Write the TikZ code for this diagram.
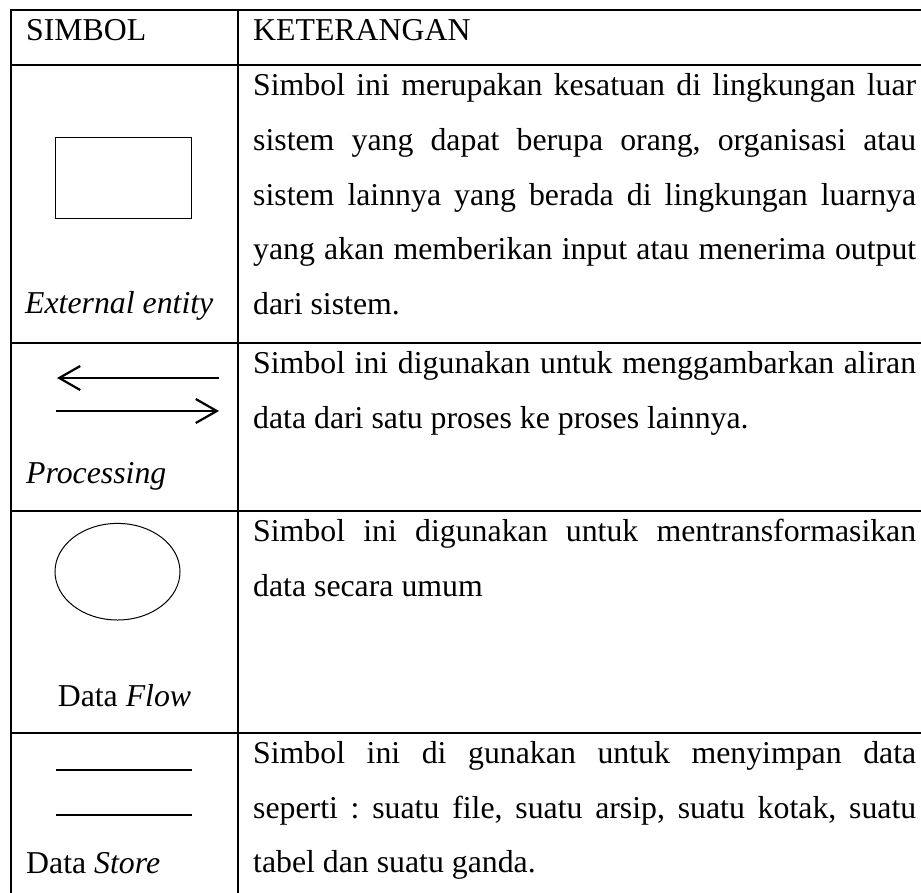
\documentclass[tikz,border=0pt]{standalone}
\usepackage{fontspec}
\setmainfont{Liberation Serif}
\usetikzlibrary{arrows.meta}
\frenchspacing
% a justified line of the description column
\newcommand\jline[1]{\makebox[663pt][s]{#1}}
\begin{document}
\begin{tikzpicture}[x=1pt,y=-1pt,
  rule/.style={line width=2.4pt, line cap=rect},
  outline/.style={line width=1pt},
  flow/.style={line width=2.2pt, -{Straight Barb[length=21pt,width=24pt,line width=2.2pt]}},
  storeline/.style={line width=2.2pt},
  txt/.style={inner sep=0pt, anchor=base west, font=\fontsize{31.8}{38}\selectfont},
  ctxt/.style={inner sep=0pt, anchor=base, font=\fontsize{31.8}{38}\selectfont}]
\useasboundingbox (0,0) rectangle (921,892);

% table rules
\draw[rule] (11,10) -- (935,10);
\draw[rule] (11,65) -- (935,65);
\draw[rule] (11,343) -- (935,343);
\draw[rule] (11,511) -- (935,511);
\draw[rule] (11,733) -- (935,733);
\draw[rule] (11,10) -- (11,905);
\draw[rule] (238,10) -- (238,905);

% header
\node[txt] (hsym) at (26,40) {SIMBOL};
\node[txt] (hket) at (253,40) {KETERANGAN};

% external entity
\draw[outline] (55,137) rectangle (191,218);
\node[txt] (lee) at (25,313) {\itshape External entity};
\node[txt] (t11) at (253,95) {\jline{Simbol ini merupakan kesatuan di lingkungan luar}};
\node[txt] (t12) at (253,150) {\jline{sistem yang dapat berupa orang, organisasi atau}};
\node[txt] (t13) at (253,205) {\jline{sistem lainnya yang berada di lingkungan luarnya}};
\node[txt] (t14) at (253,259) {\jline{yang akan memberikan input atau menerima output}};
\node[txt] (t15) at (253,314) {dari sistem.};

% processing
\coordinate (a1r) at (219,378);
\coordinate (a1l) at (57,378);
\coordinate (a2l) at (56,411);
\coordinate (a2r) at (219,411);
\draw[flow] (a1r) -- (a1l);
\draw[flow] (a2l) -- (a2r);
\node[txt] (lpr) at (26,483) {\itshape Processing};
\node[txt] (t21) at (253,373) {\jline{Simbol ini digunakan untuk menggambarkan aliran}};
\node[txt] (t22) at (253,428) {data dari satu proses ke proses lainnya.};

% data flow
\draw[outline] (117.5,571.7) ellipse [x radius=62.5, y radius=48.3];
\node[ctxt] (ldf) at (124.5,706) {Data \itshape Flow};
\node[txt] (t31) at (253,541) {\jline{Simbol ini digunakan untuk mentransformasikan}};
\node[txt] (t32) at (253,596) {data secara umum};

% data store
\coordinate (s1l) at (56,770);
\coordinate (s1r) at (192,770);
\coordinate (s2l) at (56,815);
\coordinate (s2r) at (192,815);
\draw[storeline] (s1l) -- (s1r);
\draw[storeline] (s2l) -- (s2r);
\node[txt] (lds) at (26,873) {Data \itshape Store};
\node[txt] (t41) at (253,763) {\jline{Simbol ini di gunakan untuk menyimpan data}};
\node[txt] (t42) at (253,818) {\jline{seperti : suatu file, suatu arsip, suatu kotak, suatu}};
\node[txt] (t43) at (253,872) {tabel dan suatu ganda.};
\end{tikzpicture}
\end{document}
